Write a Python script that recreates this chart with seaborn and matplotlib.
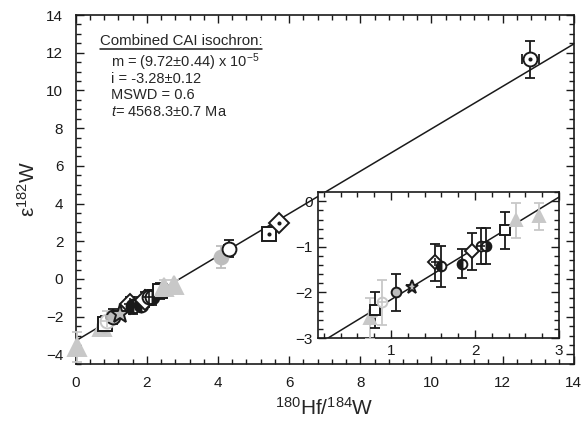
import seaborn as sns
import matplotlib.pyplot as plt
from matplotlib.ticker import MultipleLocator

sns.set_theme(style="ticks")
plt.rcParams['font.family'] = ['Liberation Sans', 'DejaVu Sans']
plt.rcParams['mathtext.fontset'] = 'custom'
plt.rcParams['mathtext.rm'] = 'Liberation Sans'
plt.rcParams['mathtext.it'] = 'Liberation Sans:italic'

# isochron line (end points)
iso_x = [0.0, 14.0]
iso_y = [-3.28, 12.46]

# CAI points with low Hf/W (main plot and inset)
low_x = [0.75, 0.78, 0.81, 0.89, 1.06, 1.25, 1.52, 1.60, 1.84, 1.96, 2.07, 2.13, 2.36, 2.49, 2.76]
low_y = [-2.57, -2.43, -2.39, -2.22, -2.00, -1.88, -1.34, -1.42, -1.37, -1.10, -0.98, -0.98, -0.64, -0.42, -0.33]
low_err = [0.45, 0.0, 0.40, 0.50, 0.40, 0.0, 0.40, 0.45, 0.32, 0.40, 0.40, 0.40, 0.40, 0.38, 0.29]
low_kind = ['tri', 'gcirc', 'sq', 'lcirc', 'gcirc_e', 'star', 'dia_x', 'half', 'half',
            'dia', 'circ_x', 'half_r', 'sq', 'tri', 'tri']

# points only in main plot
hi_x = [0.02, 4.09, 4.30, 5.42, 5.71, 12.78]
hi_y = [-3.61, 1.16, 1.61, 2.41, 2.99, 11.66]
hi_err = [0.77, 0.60, 0.45, 0.15, 0.15, 0.98]
hi_xerr = [0.0, 0.0, 0.12, 0.0, 0.10, 0.24]
hi_kind = ['tri', 'gcirc', 'circ', 'sq_dot', 'dia_dot', 'circ_dot']

LG = '#c8c8c8'
G = '#bdbdbd'
styles = {
    'tri': dict(marker='^', mfc=LG, mec=LG, ec=LG),
    'gcirc': dict(marker='o', mfc=G, mec=G, ec=G),
    'gcirc_e': dict(marker='o', mfc=G, mec='k', ec='k'),
    'lcirc': dict(marker='o', mfc='white', mec=LG, ec=LG, over='+'),
    'sq': dict(marker='s', mfc='white', mec='k', ec='k'),
    'star': dict(marker='*', mfc=G, mec='k', ec='k', big=1.4),
    'dia_x': dict(marker='D', mfc='white', mec='k', ec='k', over='+'),
    'dia': dict(marker='D', mfc='white', mec='k', ec='k'),
    'half': dict(marker='o', mfc='k', mec='k', ec='k', fill='left'),
    'half_r': dict(marker='o', mfc='k', mec='k', ec='k', fill='right'),
    'circ_x': dict(marker='o', mfc='white', mec='k', ec='k', over='+'),
    'circ': dict(marker='o', mfc='white', mec='k', ec='k'),
    'sq_dot': dict(marker='s', mfc='white', mec='k', ec='k', over='.'),
    'dia_dot': dict(marker='D', mfc='white', mec='k', ec='k', over='.'),
    'circ_dot': dict(marker='o', mfc='white', mec='k', ec='k', over='.'),
}


def draw_points(ax, xs, ys, errs, kinds, ms, xerrs=None, clip=True):
    for i, (x, y, e, k) in enumerate(zip(xs, ys, errs, kinds)):
        st = styles[k]
        xe = xerrs[i] if xerrs else 0
        size = ms * st.get('big', 1.0)
        if st['marker'] == '^':
            size = ms * 1.25
        if e > 0 or xe > 0:
            ax.errorbar(x, y, yerr=e if e > 0 else None, xerr=xe if xe > 0 else None,
                        fmt='none', ecolor=st['ec'], elinewidth=1.3, capsize=3.5,
                        capthick=1.3, zorder=3, clip_on=clip)
        kw = dict(marker=st['marker'], ms=size, mfc=st['mfc'], mec=st['mec'],
                  mew=1.4, ls='none', zorder=4, clip_on=clip)
        if 'fill' in st:
            kw['fillstyle'] = st['fill']
            kw['markerfacecoloralt'] = 'white'
        ax.plot([x], [y], **kw)
        if 'over' in st:
            ax.plot([x], [y], marker=st['over'], ms=size * (0.9 if st['over'] == '+' else 0.35),
                    color=st['mec'], mew=1.2, ls='none', zorder=5, clip_on=clip)


def style_axes(a, pad):
    a.tick_params(which='both', direction='in', top=True, right=True, colors='k',
                  labelsize=11, width=1.0)
    a.tick_params(which='major', length=6, pad=pad)
    a.tick_params(which='minor', length=3.5)
    for s in a.spines.values():
        s.set_color('k')
        s.set_linewidth(1.2)


fig = plt.figure(figsize=(5.83, 4.29), dpi=100)
ax = fig.add_axes([0.130, 0.152, 0.854, 0.813])

sns.lineplot(x=iso_x, y=iso_y, ax=ax, color='k', linewidth=1.1, zorder=2)
draw_points(ax, low_x, low_y, low_err, low_kind, 10, clip=False)
draw_points(ax, hi_x, hi_y, hi_err, hi_kind, 10, hi_xerr, clip=False)

ax.set_xlim(0, 14)
ax.set_ylim(-4.5, 14)
ax.xaxis.set_major_locator(MultipleLocator(2))
ax.xaxis.set_minor_locator(MultipleLocator(0.4))
ax.yaxis.set_major_locator(MultipleLocator(2))
ax.yaxis.set_minor_locator(MultipleLocator(0.5))
style_axes(ax, 9)
ax.set_xlabel(r'$^{180}$Hf/$^{184}$W', fontsize=15, labelpad=5)
ax.set_ylabel(r'ε$^{182}$W', fontsize=15, labelpad=5)

# isochron text
t1 = ax.text(0.67, 12.6, 'Combined CAI isochron:', fontsize=10.8, va='center')
lines = ['m = (9.72±0.44) x 10$^{-5}$', 'i = -3.28±0.12', 'MSWD = 0.6', '$t$= 4568.3±0.7 Ma']
for j, txt in enumerate(lines):
    ax.text(1.0, 11.5 - j * 0.88, txt, fontsize=10.5, va='center')
fig.canvas.draw()
bb = t1.get_window_extent().transformed(fig.transFigure.inverted())
fig.add_artist(plt.Line2D([bb.x0, bb.x1], [bb.y0 - 0.002, bb.y0 - 0.002],
                          transform=fig.transFigure, color='k', lw=1.1))

# inset
axi = fig.add_axes([0.5455, 0.212, 0.4134, 0.340])
sns.lineplot(x=iso_x, y=iso_y, ax=axi, color='k', linewidth=1.1, zorder=2)
draw_points(axi, low_x, low_y, low_err, low_kind, 7)
axi.set_xlim(0.13, 3.0)
axi.set_ylim(-3.0, 0.2)
axi.xaxis.set_major_locator(MultipleLocator(1))
axi.xaxis.set_minor_locator(MultipleLocator(0.2))
axi.yaxis.set_major_locator(MultipleLocator(1))
axi.yaxis.set_minor_locator(MultipleLocator(0.2))
style_axes(axi, 4)
axi.set_xlabel('')
axi.set_ylabel('')

fig.savefig('out.png', dpi=100)
